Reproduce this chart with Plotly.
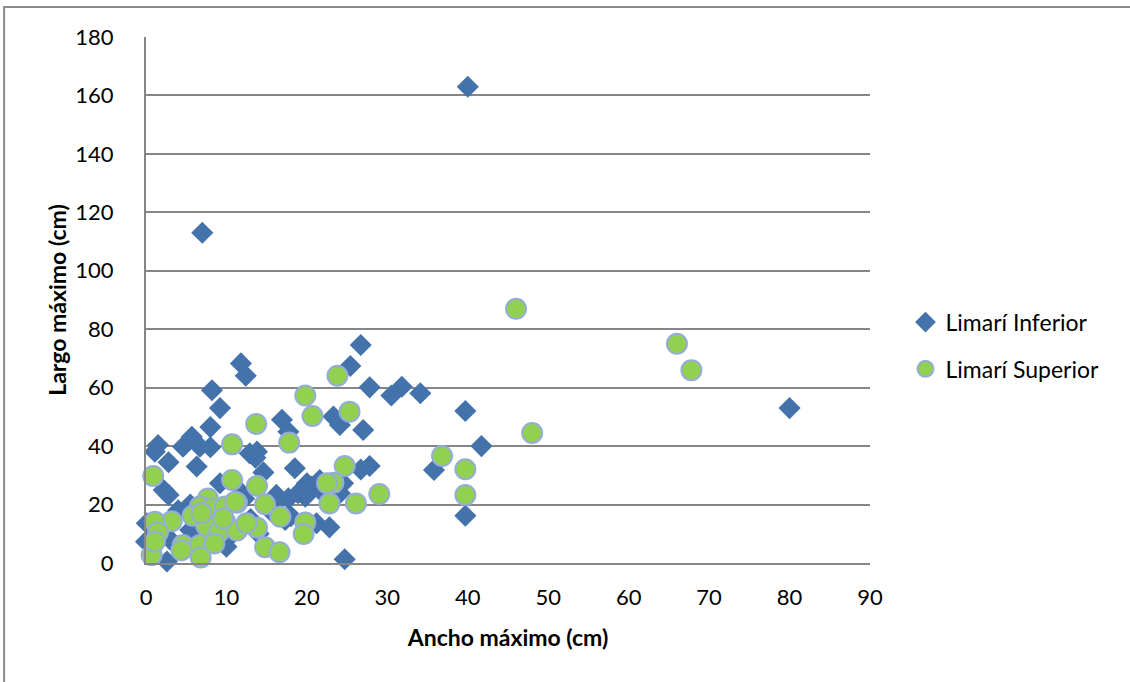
import plotly.graph_objects as go

# Limarí Inferior: ancho máximo (cm), largo máximo (cm)
inferior_ancho = [40, 7, 80, 26.7, 25.4, 11.8, 12.4, 8.2, 9.2, 8.0,
                  27.8, 30.5, 31.8, 34.1, 39.7, 23.3, 24.1, 27.0, 16.9, 17.7,
                  41.7, 35.8, 39.7, 26.7, 27.8, 18.5, 14.6,
                  1.5, 1.1, 4.6, 5.7, 6.7, 8.0, 2.8, 6.3, 12.9, 13.8, 13.6,
                  9.2, 2.2, 2.8, 5.5, 11.9, 20.0, 21.6, 20.6, 21.6, 24.5, 24.1,
                  19.8, 16.2, 17.7, 18.9, 15.8, 17.3, 21.2, 22.8, 24.7, 2.6,
                  10.0, 5.5, 10.4, 0.1, 0.0, 12.0, 14.0, 3.0, 7.0, 8.0, 12.2,
                  10.0, 4.0, 13.0, 16.0, 6.0, 18.0]
inferior_largo = [163, 113, 53, 74.6, 67.4, 68.3, 64.1, 59.1, 53.0, 46.5,
                  60.1, 57.3, 60.3, 58.1, 52.0, 50.1, 47.2, 45.5, 49.0, 44.9,
                  40.0, 31.8, 16.2, 32.0, 33.2, 32.4, 31.0,
                  40.4, 38.1, 39.8, 43.2, 39.8, 39.6, 34.5, 33.0, 37.5, 38.1, 36.0,
                  27.3, 25.0, 23.3, 20.0, 23.9, 27.3, 28.4, 26.1, 25.0, 27.3, 23.9,
                  22.7, 23.3, 22.1, 23.9, 17.0, 14.7, 13.6, 12.2, 1.3, 0.5,
                  5.6, 11.3, 9.0, 13.6, 7.3, 12.0, 10.0, 8.0, 5.0, 10.0, 22.0,
                  14.0, 18.0, 15.0, 20.0, 9.0, 16.0]

# Limarí Superior: ancho máximo (cm), largo máximo (cm)
superior_ancho = [46, 66, 67.8, 48, 36.8, 39.7, 39.7, 29.0, 26.1, 22.8,
                  23.8, 19.8, 20.7, 25.3, 13.7, 10.7, 17.8, 0.9, 10.7, 13.8,
                  24.7, 23.3, 22.5, 7.7, 11.3, 14.8, 6.7, 8.2, 9.8, 5.8,
                  3.2, 1.1, 1.5, 7.5, 9.8, 9.1, 11.3, 13.8, 12.5, 16.7,
                  19.8, 19.6, 4.6, 6.7, 8.5, 0.7, 6.8, 14.8, 16.6, 11.1,
                  9.6, 4.4, 6.9, 1.1]
superior_largo = [87, 75, 66, 44.5, 36.6, 32.1, 23.3, 23.6, 20.4, 20.4,
                  64.1, 57.3, 50.3, 51.8, 47.6, 40.6, 41.2, 29.8, 28.4, 26.4,
                  33.2, 27.5, 27.3, 22.1, 20.6, 20.1, 19.3, 18.5, 19.3, 16.2,
                  14.3, 14.1, 10.5, 12.7, 14.4, 10.7, 11.1, 12.1, 13.6, 15.8,
                  13.9, 9.9, 6.2, 6.2, 6.7, 2.7, 1.9, 5.4, 3.7, 21.0,
                  15.3, 4.4, 17.0, 7.3]

x_ticks = list(range(0, 91, 10))
y_ticks = list(range(0, 181, 20))

FONT = "Lato, 'Open Sans', sans-serif"
GRID = "#868686"

fig = go.Figure()
fig.add_trace(go.Scatter(
    x=inferior_ancho, y=inferior_largo, mode="markers", name="Limarí Inferior",
    marker=dict(symbol="diamond", size=17, color="#4472AA",
                line=dict(width=0)),
    cliponaxis=False, legend="legend",
))
fig.add_trace(go.Scatter(
    x=superior_ancho, y=superior_largo, mode="markers", name="Limarí Superior",
    marker=dict(symbol="circle", size=20, color="#92D050",
                line=dict(width=2, color="#95ADD6")),
    cliponaxis=False, legend="legend2",
))

legend_common = dict(xanchor="left", yanchor="middle", font=dict(size=23),
                     itemsizing="trace", bgcolor="rgba(0,0,0,0)")

fig.update_layout(
    width=1130, height=682,
    margin=dict(l=146, r=260, t=37, b=119),
    paper_bgcolor="white", plot_bgcolor="white",
    font=dict(family=FONT, size=22, color="#000000"),
    xaxis=dict(
        range=[0, 90], tickvals=x_ticks, ticktext=[str(v) for v in x_ticks],
        showgrid=False, zeroline=False, showline=True, linecolor=GRID, linewidth=2,
        ticks="", ticklabelstandoff=14, tickfont=dict(size=22),
        title=dict(text="<b>Ancho máximo (cm)</b>", font=dict(size=23), standoff=20),
    ),
    yaxis=dict(
        range=[0, 180], tickvals=y_ticks, ticktext=[str(v) for v in y_ticks],
        showgrid=True, gridcolor=GRID, gridwidth=2, zeroline=False,
        showline=True, linecolor=GRID, linewidth=2,
        ticks="", ticklabelstandoff=26, tickfont=dict(size=22),
        title=dict(text="<b>Largo máximo (cm)</b>", font=dict(size=23), standoff=2),
    ),
    legend=dict(x=1.049, y=0.458, **legend_common),
    legend2=dict(x=1.049, y=0.369, **legend_common),
    showlegend=True,
)

# Chart frame (left and top edges)
fig.add_shape(type="rect", xref="paper", yref="paper",
              x0=-0.196, x1=1.5, y0=-0.5, y1=1.057,
              line=dict(color="#8C8C8C", width=2), layer="below")

fig.write_html("out.html")
